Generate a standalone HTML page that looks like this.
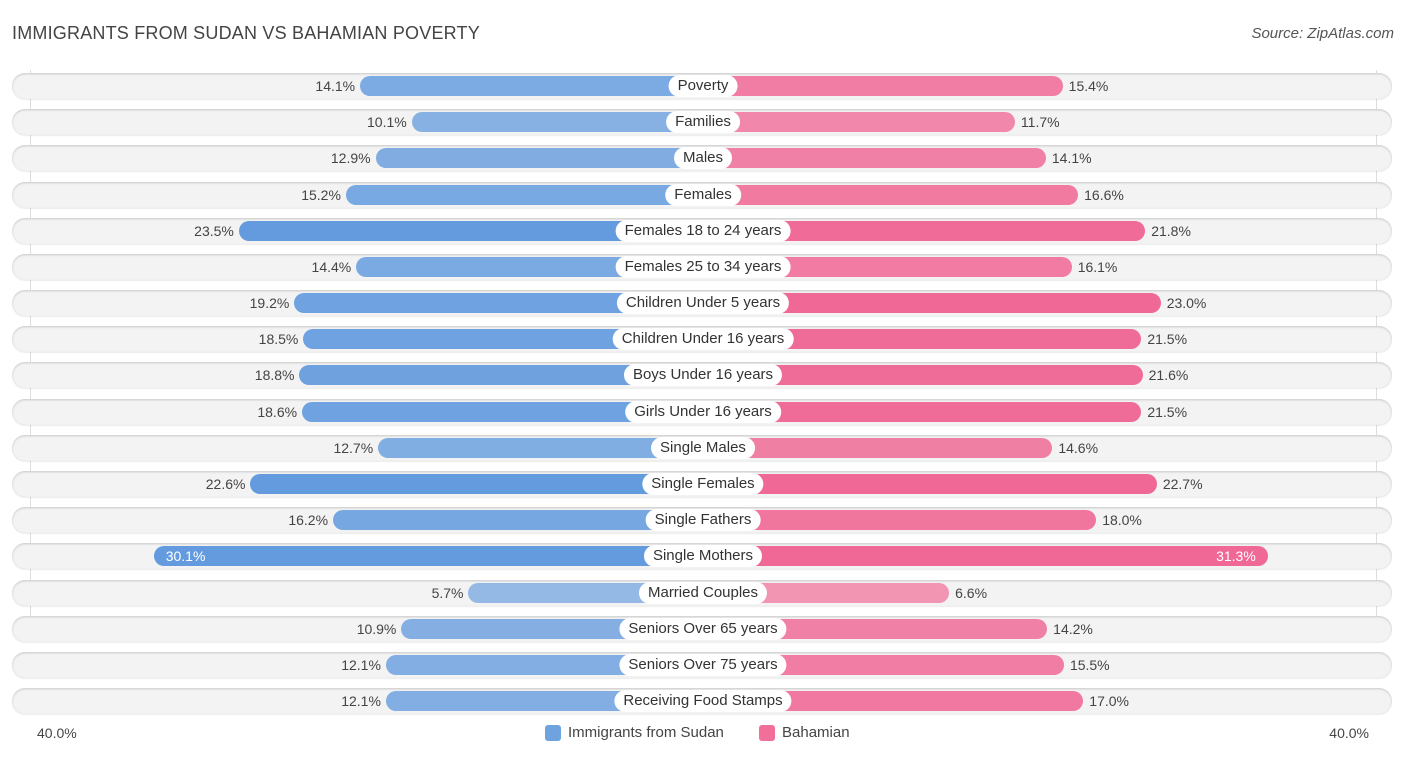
<!DOCTYPE html>
<html><head><meta charset="utf-8"><style>
body{margin:0;background:#fff;font-family:"Liberation Sans",Arial,sans-serif;}
#c{position:relative;width:1406px;height:758px;overflow:hidden}
.t{position:absolute;left:12px;top:23px;font-size:18px;color:#444;letter-spacing:0.2px}
.s{position:absolute;right:12px;top:25px;font-size:15px;color:#555;font-style:italic}
.row{position:absolute;left:12px;width:1380px;height:26px;border-radius:13px;background:#f3f3f3;box-shadow:inset 0 1px 2px rgba(0,0,0,0.18),0 1px 1px rgba(0,0,0,0.08)}
.bar{position:absolute;height:20px;border-radius:10px}
.lab{position:absolute;height:22px;line-height:22px;padding:0 9px;background:#fff;border-radius:11px;font-size:15px;color:#333;transform:translateX(-50%);white-space:nowrap}
.v{position:absolute;font-size:14px;color:#444;line-height:20px}
.grid{position:absolute;top:70px;height:568px;width:1px;background:#ddd}
.ax{position:absolute;top:725px;font-size:14px;color:#444}
.leg{position:absolute;top:724px;font-size:15px;color:#444;display:flex;align-items:center}
.sw{width:16px;height:16px;border-radius:3px;margin-right:7px}
</style></head><body><div id="c">
<div class="t">IMMIGRANTS FROM SUDAN VS BAHAMIAN POVERTY</div>
<div class="s">Source: ZipAtlas.com</div>
<div class="grid" style="left:30px"></div>
<div class="grid" style="left:1376px"></div>
<div class="ax" style="left:37px">40.0%</div>
<div class="ax" style="right:37px">40.0%</div>
<div class="leg" style="left:545px"><div class="sw" style="background:#6fa3e0"></div>Immigrants from Sudan</div>
<div class="leg" style="left:759px"><div class="sw" style="background:#f07099"></div>Bahamian</div>
</div>
<script>
const categories=["Poverty","Families","Males","Females","Females 18 to 24 years","Females 25 to 34 years","Children Under 5 years","Children Under 16 years","Boys Under 16 years","Girls Under 16 years","Single Males","Single Females","Single Fathers","Single Mothers","Married Couples","Seniors Over 65 years","Seniors Over 75 years","Receiving Food Stamps"];
const sudan=[14.1,10.1,12.9,15.2,23.5,14.4,19.2,18.5,18.8,18.6,12.7,22.6,16.2,30.1,5.7,10.9,12.1,12.1];
const bahamian=[15.4,11.7,14.1,16.6,21.8,16.1,23.0,21.5,21.6,21.5,14.6,22.7,18.0,31.3,6.6,14.2,15.5,17.0];
const c=document.getElementById('c');
const cx=703;
function w(v){return 161+12.9*v;}
function rowY(i){return 86+i*36.18;}
function alpha(v){return Math.min(1,0.55+v/50);}
categories.forEach((cat,i)=>{
  const y=rowY(i);
  const r=document.createElement('div');r.className='row';r.style.top=(y-13)+'px';
  
  
  c.appendChild(r);
  const sv=sudan[i],bv=bahamian[i];
  const b1=document.createElement('div');b1.className='bar';
  const w1=w(sv);b1.style.left=(cx-w1)+'px';b1.style.width=w1+'px';b1.style.top=(y-10)+'px';
  b1.style.background='rgba(100,155,222,'+alpha(sv)+')';
  
  
  c.appendChild(b1);
  const b2=document.createElement('div');b2.className='bar';
  const w2=w(bv);b2.style.left=cx+'px';b2.style.width=w2+'px';b2.style.top=(y-10)+'px';
  b2.style.background='rgba(240,105,150,'+alpha(bv)+')';
  
  
  c.appendChild(b2);
  const v1=document.createElement('div');v1.className='v';v1.textContent=sv.toFixed(1)+'%';v1.style.top=(y-10)+'px';
  if(sv>28){v1.style.left=(cx-w1+12)+'px';v1.style.color='#fff';}else{v1.style.right=(1406-(cx-w1)+5)+'px';}
  
  
  c.appendChild(v1);
  const v2=document.createElement('div');v2.className='v';v2.textContent=bv.toFixed(1)+'%';v2.style.top=(y-10)+'px';
  if(bv>28){v2.style.right=(1406-(cx+w2)+12)+'px';v2.style.color='#fff';}else{v2.style.left=(cx+w2+6)+'px';}
  
  
  c.appendChild(v2);
  const l=document.createElement('div');l.className='lab';l.textContent=cat;l.style.left=cx+'px';l.style.top=(y-11)+'px';
  
  
  c.appendChild(l);
});
</script></body></html>
